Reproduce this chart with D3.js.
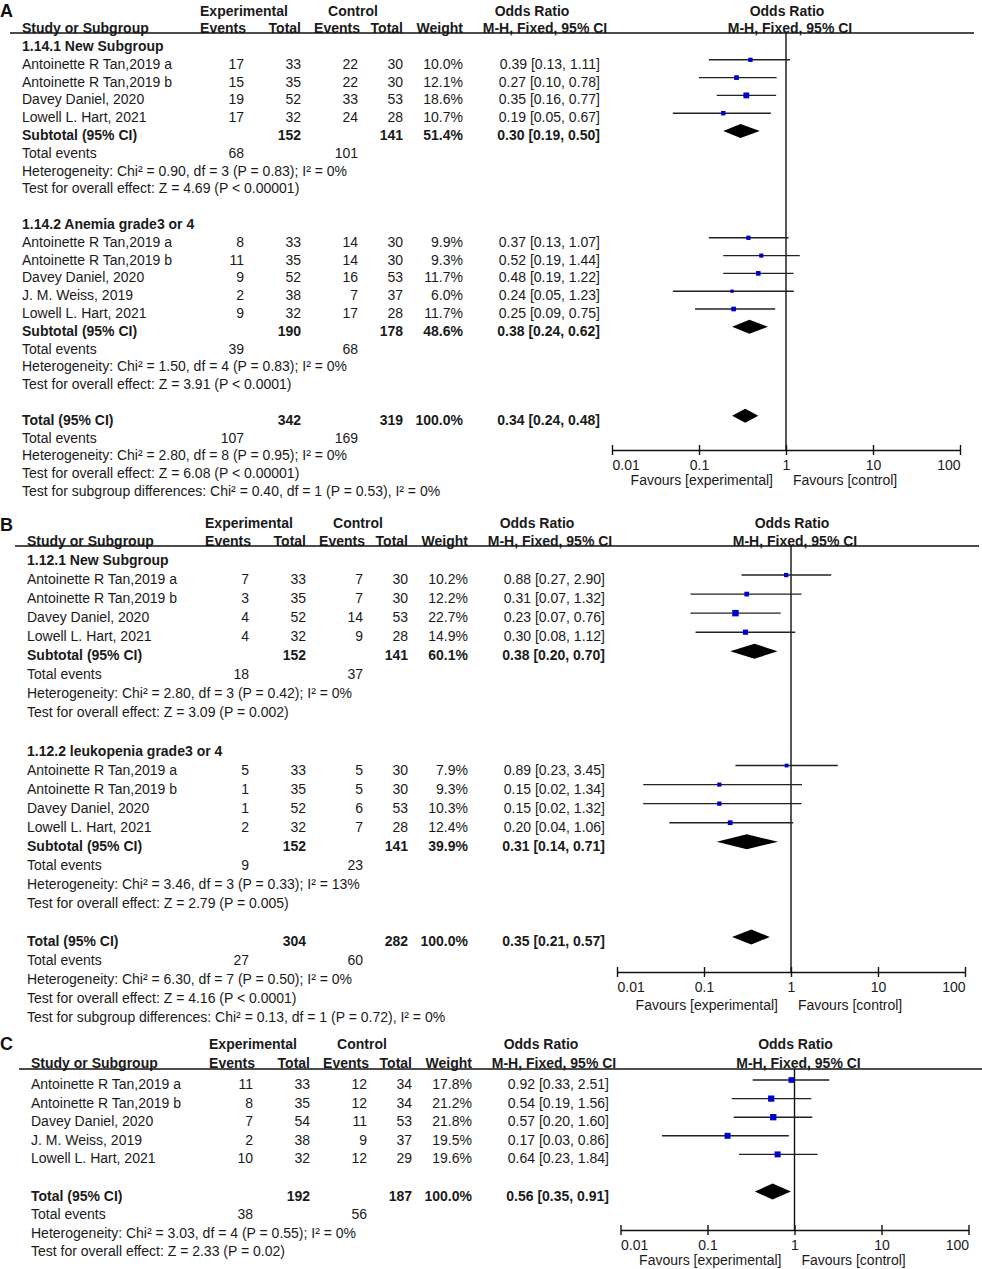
<!DOCTYPE html>
<html lang="en">
<head>
<meta charset="UTF-8" />
<title>Forest plots</title>
<script src="https://d3js.org/d3.v7.min.js"></script>
<style>
  body { margin: 0; background: #fff; }
  svg { display: block; }
  text { font-family: 'Liberation Sans', Arial, sans-serif; font-size: 14px; fill: #1a1a1a; }
  text.bold { font-weight: bold; }
  text.letter { font-size: 18px; font-weight: bold; fill: #111; }
  .axis path, .axis line { stroke: #111; stroke-width: 1.4; }
  .axis text { font-size: 14px; }
</style>
</head>
<body>
<svg width="982" height="1269"></svg>
<script>
// ---------- Panel A : anemia ----------
const groupsA = ['1.14.1 New Subgroup', '1.14.2 Anemia grade3 or 4'];
const studyGroupA = [0, 0, 0, 0, 1, 1, 1, 1, 1];
const namesA = ['Antoinette R Tan,2019 a', 'Antoinette R Tan,2019 b', 'Davey Daniel, 2020', 'Lowell L. Hart, 2021',
  'Antoinette R Tan,2019 a', 'Antoinette R Tan,2019 b', 'Davey Daniel, 2020', 'J. M. Weiss, 2019', 'Lowell L. Hart, 2021'];
const expEventsA = [17, 15, 19, 17, 8, 11, 9, 2, 9];
const expTotalA = [33, 35, 52, 32, 33, 35, 52, 38, 32];
const ctlEventsA = [22, 22, 33, 24, 14, 14, 16, 7, 17];
const ctlTotalA = [30, 30, 53, 28, 30, 30, 53, 37, 28];
const weightA = [10.0, 12.1, 18.6, 10.7, 9.9, 9.3, 11.7, 6.0, 11.7];
const orA = [0.39, 0.27, 0.35, 0.19, 0.37, 0.52, 0.48, 0.24, 0.25];
const loA = [0.13, 0.10, 0.16, 0.05, 0.13, 0.19, 0.19, 0.05, 0.09];
const hiA = [1.11, 0.78, 0.77, 0.67, 1.07, 1.44, 1.22, 1.23, 0.75];
// summaries: one per subgroup, last one is overall
const sumLabelA = ['Subtotal (95% CI)', 'Subtotal (95% CI)', 'Total (95% CI)'];
const sumExpTotalA = [152, 190, 342];
const sumCtlTotalA = [141, 178, 319];
const sumWeightA = [51.4, 48.6, 100.0];
const sumOrA = [0.30, 0.38, 0.34];
const sumLoA = [0.19, 0.24, 0.24];
const sumHiA = [0.50, 0.62, 0.48];
const sumExpEventsA = [68, 39, 107];
const sumCtlEventsA = [101, 68, 169];
const hetA = ['Heterogeneity: Chi² = 0.90, df = 3 (P = 0.83); I² = 0%',
  'Heterogeneity: Chi² = 1.50, df = 4 (P = 0.83); I² = 0%',
  'Heterogeneity: Chi² = 2.80, df = 8 (P = 0.95); I² = 0%'];
const effectA = ['Test for overall effect: Z = 4.69 (P < 0.00001)',
  'Test for overall effect: Z = 3.91 (P < 0.0001)',
  'Test for overall effect: Z = 6.08 (P < 0.00001)'];
const diffA = 'Test for subgroup differences: Chi² = 0.40, df = 1 (P = 0.53), I² = 0%';

// ---------- Panel B : leukopenia ----------
const groupsB = ['1.12.1 New Subgroup', '1.12.2 leukopenia grade3 or 4'];
const studyGroupB = [0, 0, 0, 0, 1, 1, 1, 1];
const namesB = ['Antoinette R Tan,2019 a', 'Antoinette R Tan,2019 b', 'Davey Daniel, 2020', 'Lowell L. Hart, 2021',
  'Antoinette R Tan,2019 a', 'Antoinette R Tan,2019 b', 'Davey Daniel, 2020', 'Lowell L. Hart, 2021'];
const expEventsB = [7, 3, 4, 4, 5, 1, 1, 2];
const expTotalB = [33, 35, 52, 32, 33, 35, 52, 32];
const ctlEventsB = [7, 7, 14, 9, 5, 5, 6, 7];
const ctlTotalB = [30, 30, 53, 28, 30, 30, 53, 28];
const weightB = [10.2, 12.2, 22.7, 14.9, 7.9, 9.3, 10.3, 12.4];
const orB = [0.88, 0.31, 0.23, 0.30, 0.89, 0.15, 0.15, 0.20];
const loB = [0.27, 0.07, 0.07, 0.08, 0.23, 0.02, 0.02, 0.04];
const hiB = [2.90, 1.32, 0.76, 1.12, 3.45, 1.34, 1.32, 1.06];
const sumLabelB = ['Subtotal (95% CI)', 'Subtotal (95% CI)', 'Total (95% CI)'];
const sumExpTotalB = [152, 152, 304];
const sumCtlTotalB = [141, 141, 282];
const sumWeightB = [60.1, 39.9, 100.0];
const sumOrB = [0.38, 0.31, 0.35];
const sumLoB = [0.20, 0.14, 0.21];
const sumHiB = [0.70, 0.71, 0.57];
const sumExpEventsB = [18, 9, 27];
const sumCtlEventsB = [37, 23, 60];
const hetB = ['Heterogeneity: Chi² = 2.80, df = 3 (P = 0.42); I² = 0%',
  'Heterogeneity: Chi² = 3.46, df = 3 (P = 0.33); I² = 13%',
  'Heterogeneity: Chi² = 6.30, df = 7 (P = 0.50); I² = 0%'];
const effectB = ['Test for overall effect: Z = 3.09 (P = 0.002)',
  'Test for overall effect: Z = 2.79 (P = 0.005)',
  'Test for overall effect: Z = 4.16 (P < 0.0001)'];
const diffB = 'Test for subgroup differences: Chi² = 0.13, df = 1 (P = 0.72), I² = 0%';

// ---------- Panel C ----------
const namesC = ['Antoinette R Tan,2019 a', 'Antoinette R Tan,2019 b', 'Davey Daniel, 2020', 'J. M. Weiss, 2019', 'Lowell L. Hart, 2021'];
const expEventsC = [11, 8, 7, 2, 10];
const expTotalC = [33, 35, 54, 38, 32];
const ctlEventsC = [12, 12, 11, 9, 12];
const ctlTotalC = [34, 34, 53, 37, 29];
const weightC = [17.8, 21.2, 21.8, 19.5, 19.6];
const orC = [0.92, 0.54, 0.57, 0.17, 0.64];
const loC = [0.33, 0.19, 0.20, 0.03, 0.23];
const hiC = [2.51, 1.56, 1.60, 0.86, 1.84];
const sumLabelC = ['Total (95% CI)'];
const sumExpTotalC = [192];
const sumCtlTotalC = [187];
const sumWeightC = [100.0];
const sumOrC = [0.56];
const sumLoC = [0.35];
const sumHiC = [0.91];
const sumExpEventsC = [38];
const sumCtlEventsC = [56];
const hetC = ['Heterogeneity: Chi² = 3.03, df = 4 (P = 0.55); I² = 0%'];
const effectC = ['Test for overall effect: Z = 2.33 (P = 0.02)'];

const axisTicks = [0.01, 0.1, 1, 10, 100];
const favLeft = 'Favours [experimental]';
const favRight = 'Favours [control]';

const svg = d3.select('svg');
const f2 = v => v.toFixed(2);
const orText = (o, l, h) => `${f2(o)} [${f2(l)}, ${f2(h)}]`;

function txt(g, x, y, s, anchor, cls) {
  return g.append('text')
    .attr('x', x).attr('y', y)
    .attr('text-anchor', anchor || 'start')
    .attr('class', cls || null)
    .text(s);
}

function drawPanel(p) {
  const g = svg.append('g');
  const dx = p.dx;
  const col = {
    name: 22 + dx, expEv: 244 + dx, expN: 301 + dx, ctlEv: 358 + dx,
    ctlN: 403 + dx, weight: 463 + dx, or: 600 + dx
  };
  const x = d3.scaleLog().domain([0.01, 100]).range([612 + p.fx, 960 + p.fx]);
  const base = 5; // centre -> baseline

  // build the row sequence
  const rows = [];
  if (p.groups) {
    p.groups.forEach((gr, gi) => {
      rows.push({ t: 'group', s: gr });
      p.studyGroup.forEach((sg, i) => { if (sg === gi) rows.push({ t: 'study', i }); });
      rows.push({ t: 'sum', k: gi });
      rows.push({ t: 'events', k: gi });
      rows.push({ t: 'line', s: p.het[gi] });
      rows.push({ t: 'line', s: p.effect[gi] });
      rows.push({ t: 'blank' });
    });
  } else {
    p.names.forEach((n, i) => rows.push({ t: 'study', i }));
    rows.push({ t: 'blank' });
  }
  const last = p.sumLabel.length - 1;
  rows.push({ t: 'sum', k: last });
  rows.push({ t: 'events', k: last });
  rows.push({ t: 'line', s: p.het[last] });
  rows.push({ t: 'line', s: p.effect[last] });
  if (p.diff) rows.push({ t: 'line', s: p.diff });

  const rowY = i => p.row0 + i * p.step;

  // headers
  txt(g, 0, p.letterY, p.letter, 'start', 'letter');
  txt(g, 244 + dx, p.headTop + base, 'Experimental', 'middle', 'bold');
  txt(g, 353 + dx, p.headTop + base, 'Control', 'middle', 'bold');
  txt(g, 532 + dx, p.headTop + base, 'Odds Ratio', 'middle', 'bold');
  txt(g, x(1) + 1, p.headTop + base, 'Odds Ratio', 'middle', 'bold');
  txt(g, col.name, p.head2 + base, 'Study or Subgroup', 'start', 'bold');
  txt(g, 246 + dx, p.head2 + base, 'Events', 'end', 'bold');
  txt(g, col.expN, p.head2 + base, 'Total', 'end', 'bold');
  txt(g, 360 + dx, p.head2 + base, 'Events', 'end', 'bold');
  txt(g, col.ctlN, p.head2 + base, 'Total', 'end', 'bold');
  txt(g, col.weight, p.head2 + base, 'Weight', 'end', 'bold');
  txt(g, 545 + dx, p.head2 + base, 'M-H, Fixed, 95% CI', 'middle', 'bold');
  txt(g, x(1) + 4, p.head2 + base, 'M-H, Fixed, 95% CI', 'middle', 'bold');

  g.append('line')
    .attr('x1', 10 + dx).attr('x2', 974 + dx)
    .attr('y1', p.lineY).attr('y2', p.lineY)
    .attr('stroke', '#111').attr('stroke-width', 1.5);

  // line of no effect
  g.append('line')
    .attr('x1', x(1)).attr('x2', x(1))
    .attr('y1', p.lineY).attr('y2', p.axisY)
    .attr('stroke', '#111').attr('stroke-width', 1.4);

  rows.forEach((r, ri) => {
    const y = rowY(ri);
    const ty = y + base;
    const fy = y - 4;
    if (r.t === 'group') {
      txt(g, col.name, ty, r.s, 'start', 'bold');
    } else if (r.t === 'study') {
      const i = r.i;
      txt(g, col.name, ty, p.names[i]);
      txt(g, col.expEv, ty, p.expEvents[i], 'end');
      txt(g, col.expN, ty, p.expTotal[i], 'end');
      txt(g, col.ctlEv, ty, p.ctlEvents[i], 'end');
      txt(g, col.ctlN, ty, p.ctlTotal[i], 'end');
      txt(g, col.weight, ty, p.weight[i].toFixed(1) + '%', 'end');
      txt(g, col.or, ty, orText(p.or[i], p.lo[i], p.hi[i]), 'end');
      g.append('line')
        .attr('x1', x(p.lo[i])).attr('x2', x(p.hi[i]))
        .attr('y1', fy).attr('y2', fy)
        .attr('stroke', '#222').attr('stroke-width', 1.4);
      const s = 1.35 * Math.sqrt(p.weight[i]);
      g.append('rect')
        .attr('x', x(p.or[i]) - s / 2).attr('y', fy - s / 2)
        .attr('width', s).attr('height', s)
        .attr('fill', '#0000cc');
    } else if (r.t === 'sum') {
      const k = r.k;
      txt(g, col.name, ty, p.sumLabel[k], 'start', 'bold');
      txt(g, col.expN, ty, p.sumExpTotal[k], 'end', 'bold');
      txt(g, col.ctlN, ty, p.sumCtlTotal[k], 'end', 'bold');
      txt(g, col.weight, ty, p.sumWeight[k].toFixed(1) + '%', 'end', 'bold');
      txt(g, col.or, ty, orText(p.sumOr[k], p.sumLo[k], p.sumHi[k]), 'end', 'bold');
      const h = p.diamond / 2;
      const pts = [[x(p.sumLo[k]), fy], [x(p.sumOr[k]), fy - h], [x(p.sumHi[k]), fy], [x(p.sumOr[k]), fy + h]];
      g.append('polygon')
        .attr('points', pts.map(d => d.join(',')).join(' '))
        .attr('fill', '#000');
    } else if (r.t === 'events') {
      txt(g, col.name, ty, 'Total events');
      txt(g, col.expEv, ty, p.sumExpEvents[r.k], 'end');
      txt(g, col.ctlEv, ty, p.sumCtlEvents[r.k], 'end');
    } else if (r.t === 'line') {
      txt(g, col.name, ty, r.s);
    }
  });

  // log axis
  const ax = g.append('g')
    .attr('class', 'axis')
    .attr('transform', `translate(0, ${p.axisY})`)
    .call(d3.axisBottom(x).tickValues(axisTicks).tickSizeOuter(0).tickSizeInner(5)
      .tickFormat(d => String(d)));
  ax.selectAll('.tick line').attr('y1', -5).attr('y2', 5);
  ax.selectAll('.tick text')
    .attr('y', 20).attr('dy', null).attr('fill', '#1a1a1a')
    .attr('text-anchor', (d, i) => i === 0 ? 'start' : (i === axisTicks.length - 1 ? 'end' : 'middle'));
  ax.select('.domain').attr('stroke-width', 1.6);

  txt(g, x(1) - 13, p.axisY + p.favOff, favLeft, 'end');
  txt(g, x(1) + 7, p.axisY + p.favOff, favRight, 'start');
}

drawPanel({
  letter: 'A', letterY: 17, dx: 0, fx: 0,
  headTop: 11, head2: 28, lineY: 33, row0: 46, step: 17.8, axisY: 450, favOff: 35, diamond: 14,
  groups: groupsA, studyGroup: studyGroupA, names: namesA,
  expEvents: expEventsA, expTotal: expTotalA, ctlEvents: ctlEventsA, ctlTotal: ctlTotalA,
  weight: weightA, or: orA, lo: loA, hi: hiA,
  sumLabel: sumLabelA, sumExpTotal: sumExpTotalA, sumCtlTotal: sumCtlTotalA, sumWeight: sumWeightA,
  sumOr: sumOrA, sumLo: sumLoA, sumHi: sumHiA, sumExpEvents: sumExpEventsA, sumCtlEvents: sumCtlEventsA,
  het: hetA, effect: effectA, diff: diffA
});

drawPanel({
  letter: 'B', letterY: 531, dx: 5, fx: 5,
  headTop: 523, head2: 541, lineY: 546, row0: 560, step: 19.05, axisY: 972, favOff: 38, diamond: 15,
  groups: groupsB, studyGroup: studyGroupB, names: namesB,
  expEvents: expEventsB, expTotal: expTotalB, ctlEvents: ctlEventsB, ctlTotal: ctlTotalB,
  weight: weightB, or: orB, lo: loB, hi: hiB,
  sumLabel: sumLabelB, sumExpTotal: sumExpTotalB, sumCtlTotal: sumCtlTotalB, sumWeight: sumWeightB,
  sumOr: sumOrB, sumLo: sumLoB, sumHi: sumHiB, sumExpEvents: sumExpEventsB, sumCtlEvents: sumCtlEventsB,
  het: hetB, effect: effectB, diff: diffB
});

drawPanel({
  letter: 'C', letterY: 1050, dx: 9, fx: 8.5,
  headTop: 1044, head2: 1063, lineY: 1069, row0: 1084, step: 18.6, axisY: 1230, favOff: 35, diamond: 16,
  groups: null, names: namesC,
  expEvents: expEventsC, expTotal: expTotalC, ctlEvents: ctlEventsC, ctlTotal: ctlTotalC,
  weight: weightC, or: orC, lo: loC, hi: hiC,
  sumLabel: sumLabelC, sumExpTotal: sumExpTotalC, sumCtlTotal: sumCtlTotalC, sumWeight: sumWeightC,
  sumOr: sumOrC, sumLo: sumLoC, sumHi: sumHiC, sumExpEvents: sumExpEventsC, sumCtlEvents: sumCtlEventsC,
  het: hetC, effect: effectC, diff: null
});
</script>
</body>
</html>
